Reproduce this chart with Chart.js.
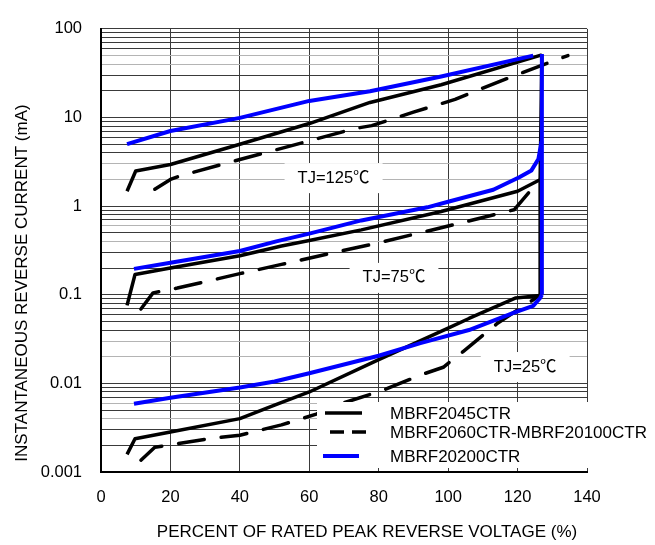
<!DOCTYPE html>
<html>
<head>
<meta charset="utf-8">
<script src="https://cdn.jsdelivr.net/npm/chart.js@4.4.0/dist/chart.umd.min.js"></script>
<style>
  html, body { margin: 0; padding: 0; background: #fff; }
</style>
</head>
<body>
<canvas id="chart" width="655" height="545"></canvas>
<script>
// ticks
const xTicks = [0, 20, 40, 60, 80, 100, 120, 140];
const yDecades = [0.001, 0.01, 0.1, 1, 10, 100];
const yLabels = ['0.001', '0.01', '0.1', '1', '10', '100'];
const yMinor = [1, 2, 3, 4, 5, 6, 7, 8, 9];

const seriesNames = ['MBRF2045CTR', 'MBRF2060CTR-MBRF20100CTR', 'MBRF20200CTR'];
const tjLabels = ['TJ=125℃', 'TJ=75℃', 'TJ=25℃'];

// [percent of rated VRRM, mA]
const mbrf2045_125 = [[7.5, 1.47], [10, 2.49], [20, 2.95], [40, 5.0], [60, 8.55], [77.5, 14.8], [98, 23.4], [127, 51]];
const mbrf2060_125 = [[15.5, 1.55], [20, 2.0], [22.5, 2.18], [40, 3.36], [60, 5.45], [73, 7.5], [78, 8.1], [90, 11.5], [102, 16], [110, 21.5], [122, 32.8], [134.5, 50]];
const mbrf20200_125 = [[7.5, 5.0], [20, 7.05], [40, 9.9], [60, 15.4], [77.5, 19.8], [98, 29], [124.5, 50]];

const mbrf2045_75 = [[7.5, 0.076], [9.8, 0.169], [20, 0.2], [40, 0.275], [52, 0.355], [60, 0.41], [75, 0.54], [98, 0.87], [120, 1.47], [126.3, 1.97]];
const mbrf2060_75 = [[11.5, 0.069], [15, 0.105], [20, 0.115], [22, 0.119], [40, 0.173], [52, 0.22], [68, 0.305], [78, 0.37], [98, 0.57], [119, 0.91], [126.3, 1.97]];
const mbrf20200_75 = [[9.5, 0.196], [20, 0.23], [40, 0.312], [50.5, 0.4], [60, 0.49], [75, 0.69], [94, 0.97], [100, 1.12], [113, 1.53], [120.5, 2.12], [124, 2.53], [126, 3.4], [126.9, 5.4]];

const mbrf2045_25 = [[7.5, 0.00158], [9.8, 0.00237], [20, 0.00283], [40, 0.004], [50, 0.0057], [60, 0.008], [80, 0.0185], [100, 0.042], [106, 0.054], [119.5, 0.092], [126.5, 0.098]];
const mbrf2060_25 = [[11.5, 0.00136], [15.5, 0.0019], [19, 0.002], [31, 0.00237], [40, 0.0026], [52, 0.0034], [62, 0.0045], [68, 0.0057], [81, 0.0083], [93, 0.0128], [98.6, 0.0152], [104.4, 0.023], [114, 0.047], [126.3, 0.098]];
const mbrf20200_25 = [[9.5, 0.0059], [20, 0.0069], [40, 0.009], [50, 0.0105], [60, 0.013], [80, 0.0205], [92, 0.0285], [106, 0.04], [119, 0.063], [124.5, 0.075], [126.5, 0.092], [127, 0.1]];

// vertical breakdown risers
const riser2045 = [[126.5, 0.098], [126.5, 1.97], [127, 51]];
const riser20200 = [[127, 0.1], [127, 52]];

const FONT = '"Liberation Sans", Arial, "Noto Sans CJK SC", sans-serif';
const BLACK = '#000000';
const BLUE = '#0000ff';
const greyLines = [50, 40, 3, 2, 0.6, 0.4, 0.03, 0.02, 0.006, 0.004];

const toPts = arr => arr.map(p => ({ x: p[0], y: p[1] }));

function line(name, pts, color, width, dash) {
  return {
    label: name,
    data: toPts(pts),
    borderColor: color,
    borderWidth: width,
    borderDash: dash || [],
    borderCapStyle: dash ? 'round' : 'butt',
    borderJoinStyle: 'round',
    pointRadius: 0,
    tension: 0,
    fill: false
  };
}

const DASH = [26, 17];
// first dataset is drawn on top
const datasets = [
  line(seriesNames[2], riser20200, BLUE, 4),
  line(seriesNames[2], mbrf20200_125, BLUE, 4),
  line(seriesNames[2], mbrf20200_75, BLUE, 4),
  line(seriesNames[2], mbrf20200_25, BLUE, 4),
  line(seriesNames[0], riser2045, BLACK, 3.5),
  line(seriesNames[0], mbrf2045_125, BLACK, 3.5),
  line(seriesNames[0], mbrf2045_75, BLACK, 3.5),
  line(seriesNames[0], mbrf2045_25, BLACK, 3.5),
  line(seriesNames[1], mbrf2060_125, BLACK, 3.5, DASH),
  line(seriesNames[1], mbrf2060_75, BLACK, 3.5, DASH),
  line(seriesNames[1], mbrf2060_25, BLACK, 3.5, DASH)
];

// label anchors (data coords of text centre)
const tjAnchors = [[67, 2.07], [84.4, 0.155], [122.2, 0.0153]];

const overlay = {
  id: 'overlay',
  beforeDatasetsDraw(chart) {
    const { ctx, scales: { x, y } } = chart;
    ctx.save();
    ctx.font = '16.5px ' + FONT;
    ctx.textAlign = 'center';
    ctx.textBaseline = 'middle';
    tjLabels.forEach((t, i) => {
      const px = x.getPixelForValue(tjAnchors[i][0]);
      const py = y.getPixelForValue(tjAnchors[i][1]);
      const w = ctx.measureText(t).width + 26;
      ctx.fillStyle = '#fff';
      ctx.fillRect(px - w / 2, py - 15, w, 30);
      ctx.fillStyle = '#000';
      ctx.fillText(t, px, py);
    });
    ctx.restore();
  },
  afterDatasetsDraw(chart) {
    const { ctx } = chart;
    ctx.save();
    ctx.fillStyle = '#fff';
    ctx.fillRect(317, 402, 338, 66);
    const rows = [
      { y: 413, x0: 325, x1: 362, color: BLACK, w: 3.5, dash: [] },
      { y: 432, x0: 330, x1: 367, color: BLACK, w: 3.5, dash: [14, 8] },
      { y: 456, x0: 323, x1: 359, color: BLUE, w: 4, dash: [] }
    ];
    rows.forEach((r, i) => {
      ctx.beginPath();
      ctx.setLineDash(r.dash);
      ctx.strokeStyle = r.color;
      ctx.lineWidth = r.w;
      ctx.moveTo(r.x0, r.y);
      ctx.lineTo(r.x1, r.y);
      ctx.stroke();
      ctx.setLineDash([]);
      ctx.fillStyle = '#000';
      ctx.font = '17px ' + FONT;
      ctx.textAlign = 'left';
      ctx.textBaseline = 'middle';
      ctx.fillText(seriesNames[i], 390, r.y + 1);
    });
    ctx.restore();
  },
  afterDraw(chart) {
    const { ctx } = chart;
    ctx.save();
    ctx.fillStyle = '#000';
    ctx.font = '17px ' + FONT;
    ctx.textAlign = 'center';
    ctx.textBaseline = 'middle';
    ctx.fillText('PERCENT OF RATED PEAK REVERSE VOLTAGE (%)', 367, 532);
    ctx.translate(22, 283);
    ctx.rotate(-Math.PI / 2);
    ctx.fillText('INSTANTANEOUS REVERSE CURRENT (mA)', 0, 0);
    ctx.restore();
  }
};

const tickValue = v => Number(v.toPrecision(3));

new Chart(document.getElementById('chart'), {
  type: 'line',
  data: { datasets },
  plugins: [overlay],
  options: {
    responsive: false,
    animation: false,
    layout: { padding: { left: 0, right: 68, top: 14, bottom: 0 } },
    plugins: { legend: { display: false }, tooltip: { enabled: false } },
    scales: {
      x: {
        type: 'linear',
        min: 0,
        max: 140,
        afterBuildTicks: s => { s.ticks = xTicks.map(v => ({ value: v })); },
        afterFit: s => { s.height = 73; },
        grid: { color: '#3a3a3a', lineWidth: 1, drawTicks: false },
        border: { color: '#000', width: 2 },
        ticks: { color: '#000', font: { family: FONT, size: 16.5 }, padding: 16, autoSkip: false, maxRotation: 0 }
      },
      y: {
        type: 'logarithmic',
        min: 0.001,
        max: 100,
        afterBuildTicks: s => {
          const t = [];
          yDecades.forEach(d => {
            if (d === 100) { t.push({ value: 100 }); return; }
            yMinor.forEach(m => t.push({ value: tickValue(d * m) }));
          });
          s.ticks = t;
        },
        afterFit: s => { s.width = 101; },
        grid: {
          drawTicks: false,
          lineWidth: 1,
          color: c => greyLines.includes(c.tick && c.tick.value) ? '#b4b4b4' : '#3a3a3a'
        },
        border: { color: '#000', width: 2 },
        ticks: {
          color: '#000',
          font: { family: FONT, size: 16.5 },
          padding: 19,
          autoSkip: false,
          callback: v => {
            const i = yDecades.indexOf(v);
            return i >= 0 ? yLabels[i] : '';
          }
        }
      }
    }
  }
});
</script>
</body>
</html>
